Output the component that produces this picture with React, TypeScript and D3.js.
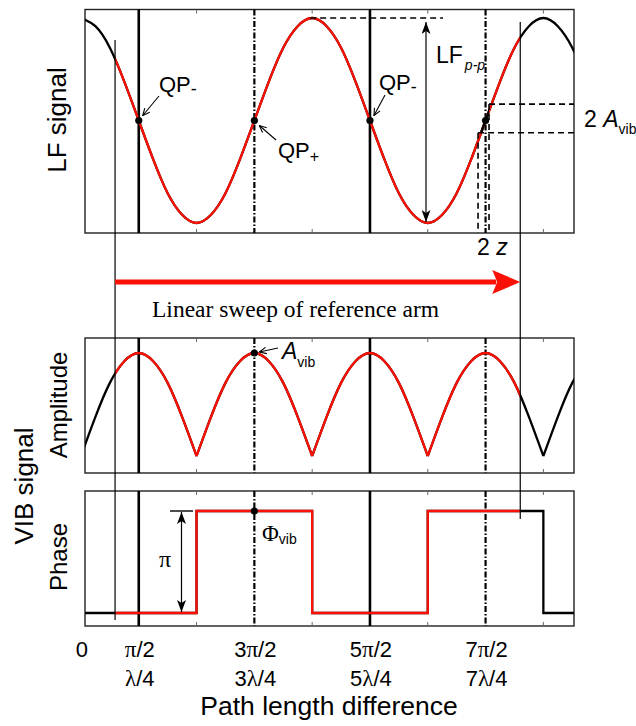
import React from 'react';
import * as d3 from 'd3';

// phase axis, in units of pi
const samplePhase = [
  0, 0.125, 0.25, 0.375, 0.5, 0.625, 0.75, 0.875, 1, 1.125, 1.25, 1.375,
  1.5, 1.625, 1.75, 1.875, 2, 2.125, 2.25, 2.375, 2.5, 2.625, 2.75, 2.875,
  3, 3.125, 3.25, 3.375, 3.5, 3.625, 3.75, 3.875, 4, 4.125, 4.25, 4.375,
];
// LF signal (normalised -1..1)
const lfSignal = [
  1, 0.92, 0.71, 0.38, 0, -0.38, -0.71, -0.92, -1, -0.92, -0.71, -0.38,
  0, 0.38, 0.71, 0.92, 1, 0.92, 0.71, 0.38, 0, -0.38, -0.71, -0.92,
  -1, -0.92, -0.71, -0.38, 0, 0.38, 0.71, 0.92, 1, 0.92, 0.71, 0.38,
];
// VIB amplitude (normalised 0..1)
const vibAmplitude = [
  0, 0.38, 0.71, 0.92, 1, 0.92, 0.71, 0.38, 0, 0.38, 0.71, 0.92,
  1, 0.92, 0.71, 0.38, 0, 0.38, 0.71, 0.92, 1, 0.92, 0.71, 0.38,
  0, 0.38, 0.71, 0.92, 1, 0.92, 0.71, 0.38, 0, 0.38, 0.71, 0.92,
];
// VIB phase: 0 or pi, switching at these phases
const phaseSwitch = [0, 1, 2, 3, 4, 4.4];
const vibPhase = [0, 1, 0, 1, 0, 0];

const qpMinus = [0.5, 2.5];
const qpPlus = [1.5, 3.5];
const piTicks = [1, 2, 3, 4];
const sweep = [0.295, 3.8];
const xDomain = [0.035, 4.265];

const tickPos = [0, 0.5, 1.5, 2.5, 3.5];
const tickPhaseLabels = ['0', 'π/2', '3π/2', '5π/2', '7π/2'];
const tickPathLabels = ['', 'λ/4', '3λ/4', '5λ/4', '7λ/4'];

// 2z / 2A_vib box around QP+ at 7pi/2
const zBox = [3.435, 3.53];
const aBox = [-0.12, 0.16];

const RED = '#fa1005';
const SANS = 'Liberation Sans, Arial, Helvetica, sans-serif';
const SERIF = 'Liberation Serif, Times New Roman, serif';

const L = 85, R = 574;
const panels = {
  lf: { top: 9.5, bottom: 233 },
  amp: { top: 338, bottom: 473 },
  ph: { top: 491, bottom: 626 },
};

// greek letters drawn in a serif face like the original
const greek = (s: string) =>
  s.split('').map((c, i) =>
    c === 'π' || c === 'λ' ? <tspan key={i} fontFamily={SERIF} fontSize={23}>{c}</tspan> : <tspan key={i}>{c}</tspan>
  );

export default function App() {
  const x = d3.scaleLinear().domain(xDomain).range([L, R]);
  const yLF = d3.scaleLinear().domain([-1, 1]).range([223, 18]);
  const yAmp = d3.scaleLinear().domain([0, 1]).range([456, 353]);
  const yPh = d3.scaleLinear().domain([0, 1]).range([613, 511]);

  const lfPts = samplePhase.map((p, i) => [p, lfSignal[i]] as [number, number]);
  const lfPath = d3.line().x(d => x(d[0])).y(d => yLF(d[1])).curve(d3.curveNatural)(lfPts) || '';

  // split amplitude into arches at the zeros
  const arches: [number, number][][] = [];
  let cur: [number, number][] = [];
  samplePhase.forEach((p, i) => {
    cur.push([p, vibAmplitude[i]]);
    if (vibAmplitude[i] === 0 && cur.length > 1) {
      arches.push(cur);
      cur = [[p, 0]];
    }
  });
  if (cur.length > 1) arches.push(cur);
  const ampLine = d3.line().x(d => x(d[0])).y(d => yAmp(d[1])).curve(d3.curveNatural);
  const ampPath = arches.map(a => ampLine(a)).join('');

  const phPts = phaseSwitch.map((p, i) => [p, vibPhase[i]] as [number, number]);
  const phPath = d3.line().x(d => x(d[0])).y(d => yPh(d[1])).curve(d3.curveStepAfter)(phPts) || '';

  const xs0 = x(sweep[0]);
  const xs1 = x(sweep[1]);

  const panelList = [panels.lf, panels.amp, panels.ph];

  const lfAt = (p: number) => lfSignal[samplePhase.indexOf(p)];
  const ampAt = (p: number) => vibAmplitude[samplePhase.indexOf(p)];

  const zx0 = x(zBox[0]);
  const zx1 = x(zBox[1]);
  const ay0 = yLF(aBox[0]);
  const ay1 = yLF(aBox[1]);

  return (
    <svg width={636} height={726} style={{ position: 'absolute', left: 0, top: 0, background: '#fff' }}
      fontFamily={SANS}>
      <defs>
        {panelList.map((p, i) => (
          <clipPath id={`panel${i}`} key={i}>
            <rect x={L} y={p.top} width={R - L} height={p.bottom - p.top} />
          </clipPath>
        ))}
        <clipPath id="sweep">
          <rect x={xs0} y={0} width={xs1 - xs0} height={726} />
        </clipPath>
        <clipPath id="zseg">
          <rect x={zx0} y={ay1} width={zx1 - zx0} height={ay0 - ay1} />
        </clipPath>
        <marker id="open" viewBox="0 0 8 8" refX={7.5} refY={4} markerWidth={8} markerHeight={8}
          markerUnits="userSpaceOnUse" orient="auto">
          <path d="M0.5,0.8 L7.5,4 L0.5,7.2" fill="none" stroke="#000" strokeWidth={1.1} />
        </marker>
        <marker id="solid" viewBox="0 0 12 9" refX={12} refY={4.5} markerWidth={12} markerHeight={9}
          markerUnits="userSpaceOnUse" orient="auto-start-reverse">
          <path d="M0,0 L12,4.5 L0,9 L3,4.5 Z" fill="#000" />
        </marker>
      </defs>

      {/* panel frames and pi ticks */}
      {panelList.map((p, i) => (
        <g key={i}>
          <rect x={L} y={p.top} width={R - L} height={p.bottom - p.top} fill="none" stroke="#222" strokeWidth={1.4} />
          {piTicks.map(t => (
            <g key={t} stroke="#666" strokeWidth={1}>
              <line x1={x(t)} x2={x(t)} y1={p.top} y2={p.top + 4} />
              <line x1={x(t)} x2={x(t)} y1={p.bottom} y2={p.bottom - 4} />
            </g>
          ))}
          {qpMinus.map(q => (
            <line key={q} x1={x(q)} x2={x(q)} y1={p.top} y2={p.bottom} stroke="#000" strokeWidth={2.6} />
          ))}
          {qpPlus.map(q => (
            <line key={q} x1={x(q)} x2={x(q)} y1={p.top} y2={p.bottom} stroke="#000" strokeWidth={2.2}
              strokeDasharray="6,2,1.5,2" />
          ))}
        </g>
      ))}

      {/* top panel: LF signal */}
      <g clipPath="url(#panel0)">
        <path d={lfPath} fill="none" stroke="#000" strokeWidth={2.3} />
      </g>
      <g clipPath="url(#sweep)">
        <path d={lfPath} fill="none" stroke={RED} strokeWidth={2.3} />
      </g>
      <g clipPath="url(#zseg)">
        <path d={lfPath} fill="none" stroke="#000" strokeWidth={2.4} />
      </g>

      {/* amplitude panel */}
      <g clipPath="url(#panel1)">
        <path d={ampPath} fill="none" stroke="#000" strokeWidth={2.3} />
      </g>
      <g clipPath="url(#sweep)">
        <path d={ampPath} fill="none" stroke={RED} strokeWidth={2.3} />
      </g>

      {/* phase panel */}
      <g clipPath="url(#panel2)">
        <path d={phPath} fill="none" stroke="#000" strokeWidth={2.3} />
      </g>
      <g clipPath="url(#sweep)">
        <path d={phPath} fill="none" stroke={RED} strokeWidth={2.3} />
      </g>

      {/* sweep boundary lines */}
      <line x1={xs0} x2={xs0} y1={40} y2={620} stroke="#000" strokeWidth={1.2} />
      <line x1={xs1} x2={xs1} y1={22} y2={519} stroke="#000" strokeWidth={1.2} />

      {/* QP dots */}
      {[...qpMinus, ...qpPlus].map(q => (
        <circle key={q} cx={x(q)} cy={yLF(lfAt(q))} r={3.6} fill="#000" />
      ))}
      <circle cx={x(qpPlus[0])} cy={yAmp(ampAt(qpPlus[0]))} r={3.6} fill="#000" />
      <circle cx={x(qpPlus[0])} cy={yPh(1)} r={3.6} fill="#000" />

      {/* QP labels */}
      <text x={159} y={92} fontSize={22}>QP<tspan fontSize={18} dy={3}>-</tspan></text>
      <line x1={159} y1={96} x2={x(qpMinus[0]) + 4} y2={yLF(0) - 5} stroke="#000" strokeWidth={1.1} markerEnd="url(#open)" />
      <text x={278} y={158} fontSize={22}>QP<tspan fontSize={16} dy={4}>+</tspan></text>
      <line x1={276} y1={140} x2={x(qpPlus[0]) + 5} y2={yLF(0) + 5} stroke="#000" strokeWidth={1.1} markerEnd="url(#open)" />
      <text x={379} y={90} fontSize={22}>QP<tspan fontSize={18} dy={3}>-</tspan></text>
      <line x1={385} y1={95} x2={x(qpMinus[1]) + 4} y2={yLF(0) - 5} stroke="#000" strokeWidth={1.1} markerEnd="url(#open)" />

      {/* LF p-p */}
      <line x1={x(2) - 2} x2={443} y1={yLF(1)} y2={yLF(1)} stroke="#000" strokeWidth={1.6} strokeDasharray="6,4" />
      <line x1={426} x2={426} y1={yLF(1) + 4} y2={yLF(-1) - 1} stroke="#000" strokeWidth={1.2}
        markerStart="url(#solid)" markerEnd="url(#solid)" />
      <text x={436} y={63} fontSize={23}>LF<tspan fontSize={14} fontStyle="italic" dy={7} dx={2}>p-p</tspan></text>

      {/* 2z / 2A box */}
      <g stroke="#000" strokeWidth={1.6} strokeDasharray="6,4" fill="none">
        <line x1={zx1} x2={R} y1={ay1} y2={ay1} />
        <line x1={zx0} x2={R} y1={ay0} y2={ay0} />
        <line x1={zx0} x2={zx0} y1={ay0} y2={panels.lf.bottom} />
        <line x1={zx1} x2={zx1} y1={ay1} y2={panels.lf.bottom} />
      </g>
      <text x={584} y={127} fontSize={23}>2 <tspan fontStyle="italic">A</tspan><tspan fontSize={14} dy={7}>vib</tspan></text>
      <text x={477} y={255} fontSize={23}>2 <tspan fontStyle="italic">z</tspan></text>

      {/* sweep arrow */}
      <line x1={xs0} x2={xs1 - 24} y1={282} y2={282} stroke={RED} strokeWidth={5} />
      <path d={`M${xs1},282 L${xs1 - 28},270 L${xs1 - 23},282 L${xs1 - 28},294 Z`} fill={RED} />
      <text x={152} y={317} fontSize={23.5} fontFamily={SERIF}>Linear sweep of reference arm</text>

      {/* A_vib label */}
      <text x={282} y={359} fontSize={23} fontStyle="italic">A<tspan fontSize={14} fontStyle="normal" dy={8}>vib</tspan></text>
      <line x1={278} y1={348} x2={x(qpPlus[0]) + 5} y2={yAmp(1) - 1} stroke="#000" strokeWidth={1.1} markerEnd="url(#open)" />

      {/* phase annotations */}
      <line x1={170} x2={193} y1={yPh(1)} y2={yPh(1)} stroke="#000" strokeWidth={1.4} />
      <line x1={181.5} x2={181.5} y1={yPh(1) + 1} y2={yPh(0) - 1} stroke="#000" strokeWidth={1.2}
        markerStart="url(#solid)" markerEnd="url(#solid)" />
      <text x={165} y={567} fontSize={24} fontFamily={SERIF} textAnchor="middle">π</text>
      <text x={262} y={541} fontSize={23} fontFamily={SERIF}>Φ<tspan fontSize={14} fontFamily={SANS} dy={3}>vib</tspan></text>

      {/* axis labels */}
      <text transform="translate(66,120) rotate(-90)" fontSize={26} textAnchor="middle">LF signal</text>
      <text transform="translate(67,405) rotate(-90)" fontSize={24} textAnchor="middle">Amplitude</text>
      <text transform="translate(67,557) rotate(-90)" fontSize={24} textAnchor="middle">Phase</text>
      <text transform="translate(33,486) rotate(-90)" fontSize={26} textAnchor="middle">VIB signal</text>

      {tickPos.map((t, i) => (
        <g key={t}>
          <text x={x(t) + 1} y={657} fontSize={22} textAnchor="middle">{greek(tickPhaseLabels[i])}</text>
          <text x={x(t) + 1} y={686} fontSize={22} textAnchor="middle">{greek(tickPathLabels[i])}</text>
        </g>
      ))}
      <text x={329} y={715} fontSize={26.5} textAnchor="middle">Path length difference</text>
    </svg>
  );
}
